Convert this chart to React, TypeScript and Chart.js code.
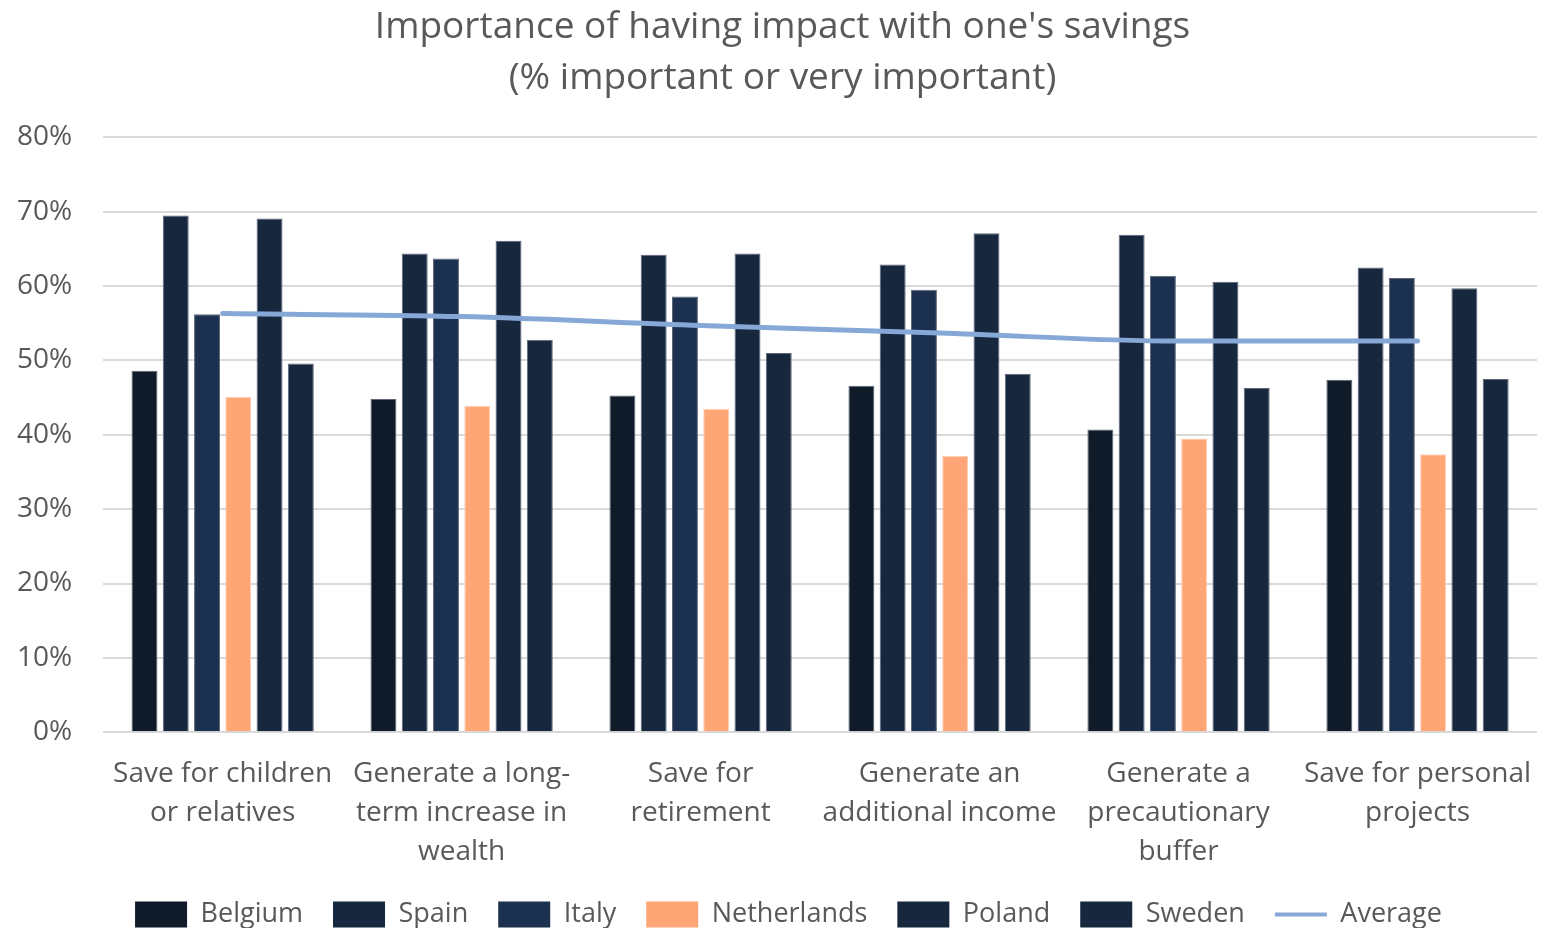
import React, { useEffect, useRef } from "react";
import { Chart, registerables } from "chart.js";

Chart.register(...registerables);

const categories: string[][] = [
  ["Save for children", "or relatives"],
  ["Generate a long-", "term increase in", "wealth"],
  ["Save for", "retirement"],
  ["Generate an", "additional income"],
  ["Generate a", "precautionary", "buffer"],
  ["Save for personal", "projects"],
];

const belgium = [48.6, 44.8, 45.3, 46.6, 40.7, 47.4];
const spain = [69.5, 64.4, 64.2, 62.9, 66.9, 62.5];
const italy = [56.2, 63.7, 58.6, 59.5, 61.4, 61.1];
const netherlands = [45.1, 43.9, 43.5, 37.2, 39.5, 37.4];
const poland = [69.1, 66.1, 64.4, 67.1, 60.6, 59.7];
const sweden = [49.6, 52.8, 51.0, 48.2, 46.3, 47.5];
const average = [56.3, 55.9, 54.7, 53.7, 52.6, 52.6];

const yTicks = [0, 10, 20, 30, 40, 50, 60, 70, 80];

const FONT = "'Open Sans', 'Noto Sans', sans-serif";
const TEXT = "#595959";

export default function App() {
  const ref = useRef<HTMLCanvasElement | null>(null);

  useEffect(() => {
    document.body.style.margin = "0";
    const canvas = ref.current;
    if (!canvas) return;

    const darkBorder = "#5d6776";
    const bar = (label: string, data: number[], color: string, border: string) => ({
      type: "bar" as const,
      label,
      data,
      backgroundColor: color,
      borderColor: border,
      borderWidth: 1,
      categoryPercentage: 0.785,
      barPercentage: 0.83,
      order: 2,
    });

    const shiftBlocks = {
      id: "shiftBlocks",
      afterLayout(c: any) {
        if (c.titleBlock) c.titleBlock.left += 42;
        if (c.legend) c.legend.left += 54;
      },
    };

    const chart = new Chart(canvas, {
      data: {
        labels: categories,
        datasets: [
          bar("Belgium", belgium, "#0f1b29", darkBorder),
          bar("Spain", spain, "#16273e", darkBorder),
          bar("Italy", italy, "#1c314f", darkBorder),
          bar("Netherlands", netherlands, "#ffa677", "#ffcfb5"),
          bar("Poland", poland, "#16273e", darkBorder),
          bar("Sweden", sweden, "#16273e", darkBorder),
          {
            type: "line" as const,
            label: "Average",
            data: average,
            borderColor: "#86a8d6",
            backgroundColor: "#86a8d6",
            borderWidth: 5,
            pointRadius: 0,
            pointHoverRadius: 0,
            cubicInterpolationMode: "monotone",
            borderCapStyle: "round",
            fill: false,
            order: 1,
          },
        ],
      } as any,
      options: {
        responsive: false,
        animation: false,
        layout: { padding: { left: -14, right: 10, top: 2, bottom: -10 } },
        plugins: {
          title: {
            display: true,
            text: ["Importance of having impact with one's savings", "(% important or very important)"],
            color: TEXT,
            font: { family: FONT, size: 37, weight: "normal" as any, lineHeight: 1.37 },
            padding: { top: 0, bottom: 34 },
          },
          legend: {
            position: "bottom",
            labels: {
              color: TEXT,
              font: { family: FONT, size: 27 },
              usePointStyle: true,
              pointStyleWidth: 52,
              boxHeight: 26,
              padding: 30,
              sort: (a: any, b: any) => a.datasetIndex - b.datasetIndex,
              generateLabels: (c: any) => {
                const items = Chart.defaults.plugins.legend.labels.generateLabels(c);
                return items.map((it: any) => {
                  const ds = c.data.datasets[it.datasetIndex];
                  if (ds.type === "line") {
                    return { ...it, pointStyle: "line", lineWidth: 4, strokeStyle: "#86a8d6" };
                  }
                  return { ...it, pointStyle: "rect", lineWidth: 0, strokeStyle: ds.backgroundColor };
                });
              },
            },
          },
          tooltip: { enabled: false },
        },
        scales: {
          x: {
            grid: {
              display: true,
              drawOnChartArea: false,
              drawTicks: true,
              tickLength: 22,
              color: "rgba(0,0,0,0)",
            },
            border: { display: false },
            ticks: {
              color: TEXT,
              font: { family: FONT, size: 28, lineHeight: 1.39 },
              maxRotation: 0,
              autoSkip: false,
              padding: 0,
            },
          },
          y: {
            min: 0,
            max: 80,
            afterBuildTicks: (axis: any) => {
              axis.ticks = yTicks.map((v) => ({ value: v }));
            },
            grid: { color: "#d9d9d9", lineWidth: 2, drawTicks: false },
            border: { display: false },
            ticks: {
              color: TEXT,
              font: { family: FONT, size: 28 },
              padding: 31,
              callback: (v: any) => v + "%",
            },
          },
        },
      } as any,
      plugins: [shiftBlocks],
    });

    return () => chart.destroy();
  }, []);

  return (
    <div style={{ width: 1547, height: 928 }}>
      <canvas ref={ref} width={1547} height={928} style={{ display: "block" }} />
    </div>
  );
}
